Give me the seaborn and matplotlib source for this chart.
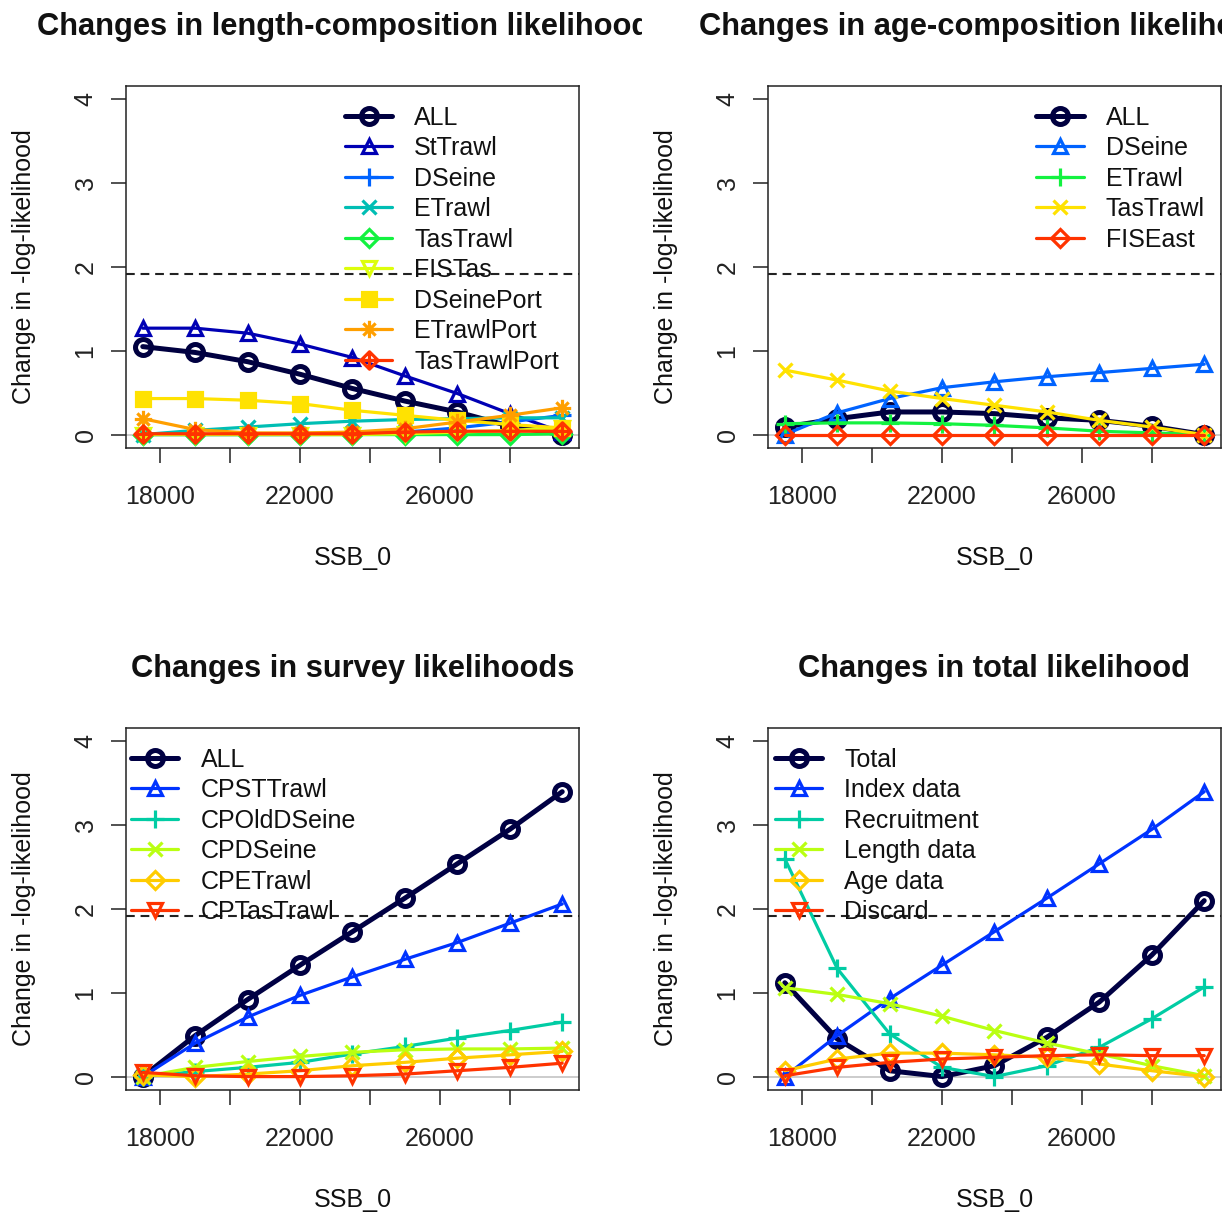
import numpy as np
import matplotlib
matplotlib.use("Agg")
import matplotlib.pyplot as plt
from matplotlib.path import Path
from matplotlib.transforms import Bbox, TransformedBbox
import seaborn as sns

# ---------------------------------------------------------------- data
ssb0 = [17500, 19000, 20500, 22000, 23500, 25000, 26500, 28000, 29500]

len_labels = ["ALL", "StTrawl", "DSeine", "ETrawl", "TasTrawl", "FISTas",
              "DSeinePort", "ETrawlPort", "TasTrawlPort"]
len_all = [1.05, 0.98, 0.87, 0.72, 0.55, 0.40, 0.27, 0.10, 0.00]
len_sttrawl = [1.27, 1.27, 1.21, 1.08, 0.92, 0.70, 0.49, 0.25, 0.03]
len_dseine = [0.00, 0.00, 0.00, 0.00, 0.01, 0.03, 0.08, 0.15, 0.23]
len_etrawl = [0.00, 0.05, 0.09, 0.13, 0.16, 0.18, 0.19, 0.20, 0.20]
len_tastrawl = [0.00, 0.00, 0.00, 0.00, 0.00, 0.00, 0.00, 0.00, 0.01]
len_fistas = [0.00, 0.00, 0.00, 0.00, 0.00, 0.01, 0.03, 0.05, 0.08]
len_dseineport = [0.43, 0.43, 0.41, 0.37, 0.29, 0.23, 0.17, 0.12, 0.08]
len_etrawlport = [0.19, 0.06, 0.02, 0.02, 0.03, 0.07, 0.15, 0.23, 0.32]
len_tastrawlport = [0.01, 0.01, 0.01, 0.01, 0.01, 0.03, 0.04, 0.04, 0.04]

age_labels = ["ALL", "DSeine", "ETrawl", "TasTrawl", "FISEast"]
age_all = [0.09, 0.19, 0.27, 0.27, 0.25, 0.20, 0.17, 0.10, 0.00]
age_dseine = [0.00, 0.26, 0.43, 0.56, 0.63, 0.69, 0.74, 0.79, 0.84]
age_etrawl = [0.13, 0.14, 0.14, 0.13, 0.11, 0.08, 0.04, 0.02, 0.00]
age_tastrawl = [0.77, 0.65, 0.52, 0.43, 0.35, 0.27, 0.17, 0.09, 0.00]
age_fiseast = [0.00, 0.00, 0.00, 0.00, 0.00, 0.00, 0.00, 0.00, 0.00]

srv_labels = ["ALL", "CPSTTrawl", "CPOldDSeine", "CPDSeine", "CPETrawl",
              "CPTasTrawl"]
srv_all = [0.00, 0.49, 0.92, 1.33, 1.73, 2.13, 2.54, 2.95, 3.40]
srv_cpsttrawl = [0.00, 0.40, 0.71, 0.97, 1.19, 1.40, 1.60, 1.83, 2.06]
srv_cpolddseine = [0.00, 0.06, 0.11, 0.17, 0.27, 0.36, 0.46, 0.55, 0.65]
srv_cpdseine = [0.00, 0.11, 0.18, 0.24, 0.29, 0.32, 0.33, 0.33, 0.34]
srv_cpetrawl = [0.02, 0.00, 0.03, 0.07, 0.13, 0.17, 0.22, 0.26, 0.30]
srv_cptastrawl = [0.05, 0.01, 0.00, 0.00, 0.01, 0.03, 0.07, 0.11, 0.16]

tot_labels = ["Total", "Index data", "Recruitment", "Length data",
              "Age data", "Discard"]
tot_total = [1.12, 0.45, 0.07, 0.00, 0.13, 0.47, 0.89, 1.45, 2.10]
tot_index = [0.00, 0.49, 0.93, 1.33, 1.73, 2.13, 2.54, 2.95, 3.40]
tot_recruit = [2.60, 1.29, 0.51, 0.11, 0.00, 0.13, 0.35, 0.69, 1.07]
tot_length = [1.06, 0.98, 0.87, 0.72, 0.55, 0.40, 0.27, 0.13, 0.01]
tot_age = [0.07, 0.21, 0.28, 0.28, 0.26, 0.23, 0.15, 0.07, 0.00]
tot_discard = [0.01, 0.11, 0.17, 0.21, 0.23, 0.25, 0.26, 0.25, 0.25]

titles = ["Changes in length-composition likelihoods",
          "Changes in age-composition likelihoods",
          "Changes in survey likelihoods",
          "Changes in total likelihood"]
x_label = "SSB_0"
y_label = "Change in -log-likelihood"
x_tick_values = [18000, 20000, 22000, 24000, 26000, 28000]
x_tick_labels = ["18000", "", "22000", "", "26000", ""]
y_tick_values = [0, 1, 2, 3, 4]
chi_cutoff = 1.92


# ---------------------------------------------------------------- style
def rich_colors_short(n):
    """Dark navy -> blue -> green -> yellow -> red ramp."""
    x = np.linspace(0, 1, n)
    r = 1 / (1 + np.exp(20 - 35 * x))
    g = np.clip(-0.8 + 6 * x - 5 * x ** 2, 0, 1)
    b = np.exp(-((x - 0.25) ** 2) / (2 * 0.15 ** 2))
    b = b / b.max()
    return [tuple(c) for c in np.column_stack([r, g, b])]


# asterisk (plus overlaid on cross)
d = np.sqrt(0.5)
ASTERISK = Path([(-1, 0), (1, 0), (0, -1), (0, 1),
                 (-d, -d), (d, d), (-d, d), (d, -d)],
                [Path.MOVETO, Path.LINETO] * 4)
# diamond with a plus inside
DIAMOND_PLUS = Path([(0, 1), (1, 0), (0, -1), (-1, 0), (0, 1),
                     (-1, 0), (1, 0), (0, -1), (0, 1)],
                    [Path.MOVETO, Path.LINETO, Path.LINETO, Path.LINETO,
                     Path.CLOSEPOLY, Path.MOVETO, Path.LINETO,
                     Path.MOVETO, Path.LINETO])

marker_cycle = ["o", "^", "+", "x", "D", "v", "s", ASTERISK, DIAMOND_PLUS]
marker_size = {0: 11.5, 1: 10.5, 2: 12.5, 3: 10, 4: 9, 5: 10.5, 6: 9.5,
               7: 12.5, 8: 12.5}

sns.set_theme(style="ticks")
plt.rcParams["font.family"] = ["Liberation Sans", "DejaVu Sans"]
plt.rcParams["axes.edgecolor"] = "#222222"
plt.rcParams["xtick.color"] = "#222222"
plt.rcParams["ytick.color"] = "#222222"
plt.rcParams["text.color"] = "#111111"
plt.rcParams["axes.labelcolor"] = "#111111"

W, H = 1222, 1212
fig = plt.figure(figsize=(W / 100, H / 100), dpi=100)

cell = 642  # pixel size of each panel's cell
panels = [
    dict(title=titles[0], labels=len_labels,
         series=[len_all, len_sttrawl, len_dseine, len_etrawl, len_tastrawl,
                 len_fistas, len_dseineport, len_etrawlport, len_tastrawlport],
         col=0, row=0, leg=(0.483, 0.946)),
    dict(title=titles[1], labels=age_labels,
         series=[age_all, age_dseine, age_etrawl, age_tastrawl, age_fiseast],
         col=1, row=0, leg=(0.592, 0.946)),
    dict(title=titles[2], labels=srv_labels,
         series=[srv_all, srv_cpsttrawl, srv_cpolddseine, srv_cpdseine,
                 srv_cpetrawl, srv_cptastrawl],
         col=0, row=1, leg=(0.011, 0.946)),
    dict(title=titles[3], labels=tot_labels,
         series=[tot_total, tot_index, tot_recruit, tot_length, tot_age,
                 tot_discard],
         col=1, row=1, leg=(0.015, 0.946)),
]

ax_w, ax_h = 453, 362
for p in panels:
    left_px = 126 + p["col"] * cell
    top_px = 86 + p["row"] * cell
    ax = fig.add_axes([left_px / W, 1 - (top_px + ax_h) / H, ax_w / W, ax_h / H])

    ax.axhline(0, color="#BEBEBE", lw=1.1, zorder=1)
    ax.axhline(chi_cutoff, color="#222222", lw=1.5, ls=(0, (4.2, 2.8)), zorder=1)

    colors = rich_colors_short(len(p["labels"]))
    handles = []
    for i, (name, vals) in enumerate(zip(p["labels"], p["series"])):
        lw = 3.6 if i == 0 else 2.3
        mk = marker_cycle[i]
        filled = (mk == "s")
        sns.lineplot(x=ssb0, y=vals, ax=ax, color=colors[i], lw=lw,
                     marker=mk, markersize=marker_size[i],
                     markeredgecolor=colors[i],
                     markerfacecolor=colors[i] if filled else "none",
                     markeredgewidth=lw, sort=False, estimator=None,
                     zorder=3 + i)
        line = ax.lines[-1]
        line.set_label(name)
        handles.append(line)

    ax.set_xlim(17020, 29980)
    ax.set_ylim(-0.16, 4.16)
    ax.set_xticks(x_tick_values, labels=x_tick_labels)
    ax.set_yticks(y_tick_values, labels=[str(v) for v in y_tick_values])
    ax.tick_params(axis="both", direction="out", length=10.5, width=1.1,
                   labelsize=18)
    ax.tick_params(axis="x", pad=16)
    ax.tick_params(axis="y", pad=10, labelrotation=90)
    for lab in ax.get_yticklabels():
        lab.set_va("center")
    for s in ax.spines.values():
        s.set_linewidth(1.1)
        s.set_visible(True)
    ax.set_xlabel(x_label, fontsize=18, labelpad=27)
    ax.set_ylabel(y_label, fontsize=18, labelpad=27)

    ax.legend(handles=handles, loc="upper left", bbox_to_anchor=p["leg"],
              frameon=False, fontsize=18, handlelength=1.9,
              handletextpad=0.88, labelspacing=0.26, borderpad=0,
              borderaxespad=0, numpoints=1)

    # title, clipped to the panel's own cell
    cx = (left_px + ax_w / 2) / W
    cy = 1 - (35 + p["row"] * cell) / H
    t = fig.text(cx, cy, p["title"], ha="center", va="baseline",
                 fontsize=22.2, fontweight="bold")
    clip = Bbox([[p["col"] * cell / W, 0], [(p["col"] + 1) * cell / W, 1]])
    t.set_clip_on(True)
    t.set_clip_box(TransformedBbox(clip, fig.transFigure))

fig.savefig("out.png", dpi=100, facecolor="white")
